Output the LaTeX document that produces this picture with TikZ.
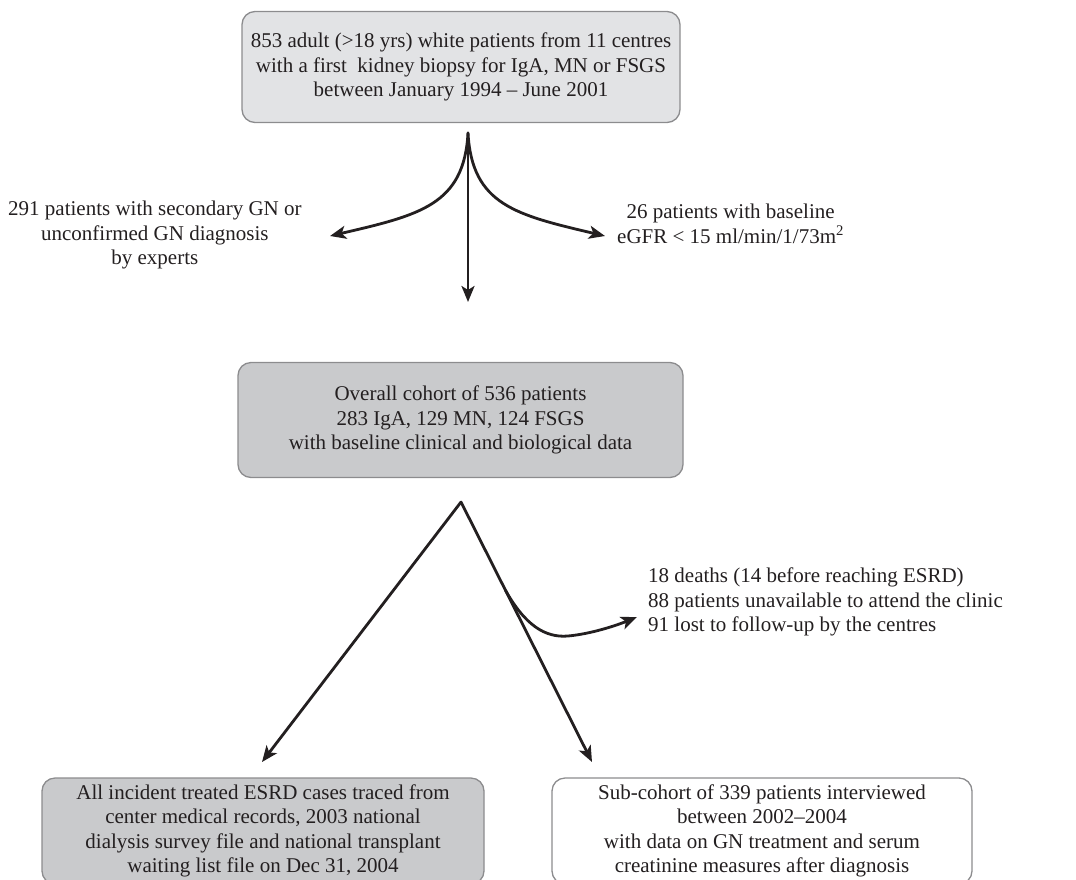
\documentclass[tikz,border=0pt]{standalone}
\usepackage{fontspec}
\setmainfont{Liberation Serif}
\usetikzlibrary{arrows.meta,calc}
\definecolor{lightbox}{HTML}{E2E3E5}
\definecolor{darkbox}{HTML}{C9CACC}
\definecolor{rim}{HTML}{8C8C8E}
\definecolor{ink}{HTML}{231F20}
\tikzset{
  box/.style={draw=rim, line width=1.3pt, rounded corners=13pt, align=center, inner sep=0pt, text=ink},
  note/.style={align=center, inner sep=0pt, text=ink},
  flow/.style={->, line width=2.8pt, draw=ink}
}
\begin{document}
\begin{tikzpicture}[x=1pt, y=-1pt, >={Stealth[length=16pt,width=13pt,inset=4pt]}, line join=round, line cap=round, font=\fontsize{21}{24.5}\selectfont]
				\useasboundingbox (0,0) rectangle (1076,879);
				% boxes
				\node [box, fill=lightbox, minimum width=438pt, minimum height=111pt] (start) at (461,67)
				{853 adult (>18 yrs) white patients from 11 centres\\with a first\ \ kidney biopsy for IgA, MN or FSGS\\between January 1994 -- June 2001};
				\node [box, fill=darkbox, minimum width=445pt, minimum height=115pt] (cohort) at (460.5,420)
				{Overall cohort of 536 patients\\283 IgA, 129 MN, 124 FSGS\\with baseline clinical and biological data};
				\node [box, fill=darkbox, minimum width=442pt, minimum height=106pt] (esrd) at (263,831)
				{All incident treated ESRD cases traced from\\center medical records, 2003 national\\dialysis survey file and national transplant\\waiting list file on Dec 31, 2004};
				\node [box, fill=white, minimum width=420pt, minimum height=106pt] (sub) at (762,831)
				{Sub-cohort of 339 patients interviewed\\between 2002--2004\\with data on GN treatment and serum\\creatinine measures after diagnosis};
				% exclusions
				\node [note, anchor=west] (excl1) at (8,235) {291 patients with secondary GN or\\unconfirmed GN diagnosis\\by experts};
				\node [note, anchor=west] (excl2) at (617,224) {26 patients with baseline\\eGFR < 15 ml/min/1/73m\textsuperscript{2}};
				\node [note, align=left, anchor=west] (lost) at (648,602) {18 deaths (14 before reaching ESRD)\\88 patients unavailable to attend the clinic\\91 lost to follow-up by the centres};
				% forks
				\coordinate (s1) at (468,133);
				\coordinate (l1) at (330,236);
				\coordinate (r1) at (605,236);
				\coordinate (d1) at (468,302);
				\coordinate (s2) at (461,502);
				\coordinate (l2) at (262,762);
				\coordinate (r2) at (592,762);
				\coordinate (b2) at (637,617);
				\draw [flow] (s1) .. controls (464,205) and (420,215) .. (l1);
				\draw [flow] (s1) .. controls (472,205) and (516,215) .. (r1);
				\draw [flow] (s1)--(d1);
				\draw [flow] (s2)--(l2);
				\draw [flow] (s2)--(r2);
				\draw [flow] ($(s2)!.34!(r2)$) .. controls (525,625) and (545,638) .. (568,636) .. controls (590,634) and (615,626) .. (b2);
			\end{tikzpicture}
\end{document}
